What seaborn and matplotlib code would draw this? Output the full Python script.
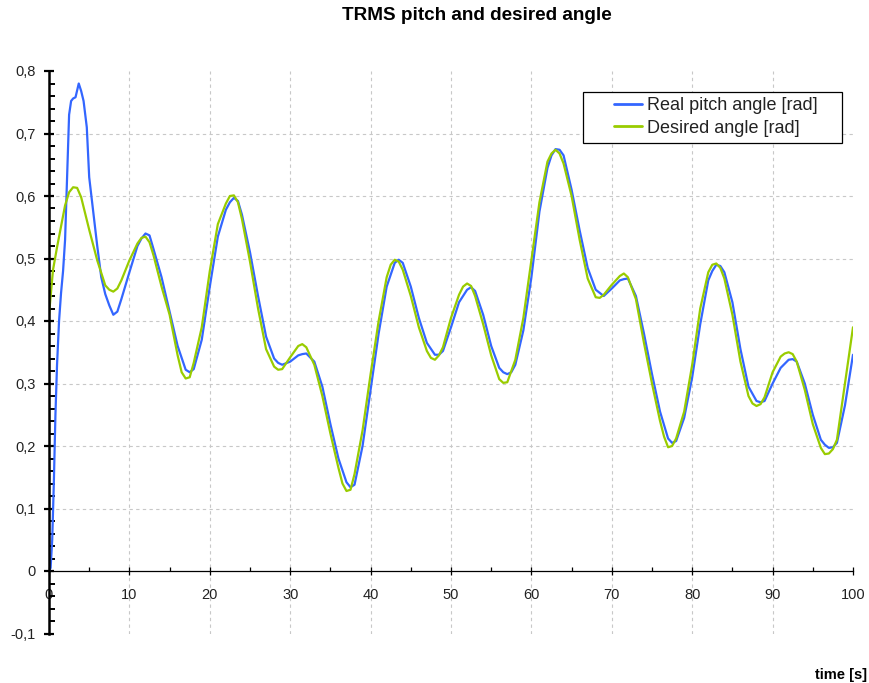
import numpy as np
import pandas as pd
import matplotlib
matplotlib.use("Agg")
import matplotlib.pyplot as plt
import seaborn as sns
from matplotlib.ticker import MultipleLocator, FixedLocator, FuncFormatter
from matplotlib.patches import Rectangle

# ---------------- data ----------------
real_t = [0, 0.2, 0.4, 0.6, 0.8, 1.0, 1.25, 1.5, 1.75, 2.0, 2.25, 2.5, 2.75, 3.0, 3.3, 3.7,
          4.0, 4.3, 4.7, 5.0, 5.5, 6.0, 6.5, 7.0, 7.5, 8, 8.5, 9, 10, 11, 11.5, 12, 12.5,
          13, 14, 15, 16, 17, 17.5, 18, 19, 20, 21, 22, 22.5, 23, 23.5, 24, 25, 26, 27, 28, 28.5, 29, 30,
          31, 31.5, 32, 33, 34, 35, 36, 37, 37.5, 38, 39, 40, 41, 42, 43, 43.5, 44, 45, 46, 47, 48, 48.5, 49, 50,
          51, 52, 52.5, 53, 54, 55, 56, 56.5, 57, 57.5, 58, 59, 60, 61, 62, 62.5, 63, 63.5, 64, 65, 66, 67, 68, 69, 70,
          71, 71.5, 72, 73, 74, 75, 76, 77, 77.5, 78, 79, 80, 81, 82, 82.5, 83, 83.5, 84, 85, 86, 87, 88, 88.5, 89, 90,
          91, 92, 92.5, 93, 94, 95, 96, 96.5, 97, 97.5, 98, 99, 100]
real_angle = [0.0, 0.005, 0.05, 0.14, 0.25, 0.33, 0.40, 0.445, 0.48, 0.53, 0.63, 0.73, 0.752, 0.756, 0.758, 0.78,
              0.768, 0.752, 0.71, 0.63, 0.575, 0.52, 0.47, 0.443, 0.425, 0.41, 0.415, 0.435, 0.478, 0.52, 0.532, 0.54, 0.537,
              0.515, 0.47, 0.415, 0.36, 0.322, 0.318, 0.323, 0.37, 0.455, 0.535, 0.578, 0.59, 0.597, 0.592, 0.57, 0.51, 0.44, 0.375, 0.34, 0.333, 0.33, 0.335,
              0.345, 0.347, 0.348, 0.335, 0.295, 0.235, 0.18, 0.142, 0.134, 0.138, 0.2, 0.29, 0.38, 0.455, 0.493, 0.498, 0.493, 0.455, 0.405, 0.365, 0.346, 0.346, 0.352, 0.39,
              0.43, 0.45, 0.454, 0.448, 0.41, 0.36, 0.325, 0.318, 0.315, 0.318, 0.33, 0.385, 0.47, 0.575, 0.645, 0.665, 0.675, 0.674, 0.665, 0.61, 0.545, 0.485, 0.45, 0.44, 0.452,
              0.465, 0.467, 0.468, 0.44, 0.38, 0.315, 0.255, 0.212, 0.205, 0.208, 0.245, 0.31, 0.395, 0.465, 0.48, 0.49, 0.488, 0.478, 0.43, 0.355, 0.295, 0.272, 0.27, 0.272, 0.3,
              0.325, 0.338, 0.339, 0.335, 0.3, 0.25, 0.21, 0.202, 0.197, 0.198, 0.205, 0.265, 0.346]

desired_t = [0, 0.5, 1, 2, 2.5, 3, 3.5, 4, 5, 6, 7, 7.5, 8, 8.5, 9, 10,
             11, 11.5, 12, 12.5, 13, 14, 15, 16, 16.5, 17, 17.5, 18, 19, 20,
             21, 22, 22.5, 23, 23.5, 24, 25, 26, 27, 28, 28.5, 29, 30,
             31, 31.5, 32, 33, 34, 35, 36, 36.5, 37, 37.5, 38, 39, 40,
             41, 42, 42.5, 43, 43.5, 44, 45, 46, 47, 47.5, 48, 48.5, 49, 50,
             51, 51.5, 52, 52.5, 53, 54, 55, 56, 56.5, 57, 58, 59, 60,
             61, 62, 62.5, 63, 63.5, 64, 65, 66, 67, 68, 68.5, 69, 70,
             71, 71.5, 72, 73, 74, 75, 76, 76.5, 77, 77.5, 78, 79, 80,
             81, 82, 82.5, 83, 83.5, 84, 85, 86, 87, 87.5, 88, 88.5, 89, 90,
             91, 91.5, 92, 92.5, 93, 94, 95, 96, 96.5, 97, 97.5, 98, 99, 100]
desired_angle = [0.41, 0.482, 0.518, 0.585, 0.606, 0.614, 0.613, 0.598, 0.546, 0.497, 0.457, 0.45, 0.447, 0.452, 0.465, 0.497,
                 0.524, 0.533, 0.535, 0.526, 0.505, 0.455, 0.41, 0.345, 0.318, 0.308, 0.31, 0.333, 0.39, 0.48,
                 0.555, 0.588, 0.6, 0.601, 0.59, 0.563, 0.495, 0.42, 0.355, 0.327, 0.322, 0.323, 0.342,
                 0.36, 0.363, 0.358, 0.33, 0.28, 0.22, 0.165, 0.14, 0.128, 0.13, 0.155, 0.225, 0.315,
                 0.4, 0.47, 0.49, 0.498, 0.495, 0.482, 0.44, 0.39, 0.352, 0.341, 0.338, 0.345, 0.358, 0.405,
                 0.442, 0.455, 0.46, 0.456, 0.44, 0.395, 0.345, 0.307, 0.301, 0.302, 0.338, 0.405, 0.498,
                 0.59, 0.655, 0.668, 0.674, 0.668, 0.652, 0.6, 0.53, 0.468, 0.438, 0.437, 0.442, 0.458,
                 0.472, 0.476, 0.47, 0.435, 0.365, 0.3, 0.24, 0.215, 0.198, 0.2, 0.212, 0.255, 0.33,
                 0.42, 0.478, 0.49, 0.492, 0.485, 0.468, 0.41, 0.335, 0.28, 0.268, 0.264, 0.267, 0.278, 0.318,
                 0.343, 0.348, 0.35, 0.347, 0.335, 0.29, 0.235, 0.197, 0.187, 0.188, 0.195, 0.21, 0.3, 0.39]

series_names = ["Real pitch angle [rad]", "Desired angle [rad]"]
series_colors = ["#3366FF", "#99CC00"]
x_ticks = [0, 10, 20, 30, 40, 50, 60, 70, 80, 90, 100]
y_ticks = [-0.1, 0, 0.1, 0.2, 0.3, 0.4, 0.5, 0.6, 0.7, 0.8]
title_text = "TRMS pitch and desired angle"
xlabel_text = "time [s]"

df = pd.concat([
    pd.DataFrame({"t": real_t, "v": real_angle, "series": series_names[0]}),
    pd.DataFrame({"t": desired_t, "v": desired_angle, "series": series_names[1]}),
], ignore_index=True)

# ---------------- style ----------------
sns.set_style("white")
plt.rcParams["font.family"] = ["Liberation Sans", "DejaVu Sans"]

fig = plt.figure(figsize=(8.7, 6.83), dpi=100)
ax = fig.add_axes([49 / 870, 1 - 633.5 / 683, 804 / 870, 562.5 / 683])

sns.lineplot(data=df, x="t", y="v", hue="series", palette=series_colors,
             hue_order=series_names, estimator=None, sort=False,
             linewidth=1.6, ax=ax, legend=True)

ax.set_xlim(0, 100)
ax.set_ylim(-0.1, 0.8)

# grid (interior only)
grid_kw = dict(color="#c8c8c8", linewidth=0.8, linestyle=(0, (3, 3)), zorder=0)
for xv in x_ticks[1:-1]:
    ax.axvline(xv, **grid_kw)
for yv in y_ticks[2:-1]:
    ax.axhline(yv, **grid_kw)

# spines
for s in ["top", "right"]:
    ax.spines[s].set_visible(False)
ax.spines["left"].set_linewidth(1.8)
ax.spines["left"].set_color("black")
ax.spines["bottom"].set_position(("data", 0))
ax.spines["bottom"].set_linewidth(0.9)
ax.spines["bottom"].set_color("black")

ax.xaxis.set_major_locator(FixedLocator(x_ticks))
ax.xaxis.set_minor_locator(MultipleLocator(5))
ax.yaxis.set_major_locator(FixedLocator(y_ticks))
ax.yaxis.set_minor_locator(MultipleLocator(0.02))

def fmt(v, pos):
    if abs(v) < 1e-9:
        return "0"
    return f"{v:.1f}".replace(".", ",")

ax.yaxis.set_major_formatter(FuncFormatter(fmt))
ax.xaxis.set_major_formatter(FuncFormatter(lambda v, p: f"{v:.0f}"))

ax.tick_params(which="both", left=True, bottom=True, top=False, right=False)
ax.tick_params(axis="y", which="major", direction="inout", length=7, width=1.6,
               pad=6, labelsize=10.5, labelcolor="#222222", color="black")
ax.tick_params(axis="y", which="minor", direction="in", length=4, width=1.4, color="black")
ax.tick_params(axis="x", which="major", direction="inout", length=6, width=0.9,
               pad=9, labelsize=10.5, labelcolor="#222222", color="black")
ax.tick_params(axis="x", which="minor", direction="in", length=3, width=0.9, color="black")

ax.set_xlabel("")
ax.set_ylabel("")

# legend: box drawn separately for wider side padding like the reference
box = Rectangle(((583 - 49) / 804, 1 - (143 - 71) / 562.5), 259 / 804, 51 / 562.5,
                transform=ax.transAxes, facecolor="white", edgecolor="black",
                linewidth=0.9, zorder=4)
ax.add_patch(box)
leg = ax.legend(loc="center right", bbox_to_anchor=((818 - 49) / 804, 1 - (117 - 71) / 562.5),
                borderaxespad=0, frameon=False, fontsize=13, handlelength=1.55,
                handletextpad=0.3, labelspacing=0.3, borderpad=0)
leg.set_zorder(5)
for t in leg.get_texts():
    t.set_color("#222222")
for h in leg.get_lines():
    h.set_linewidth(2.0)

fig.text(477 / 870, 1 - 15 / 683, title_text, ha="center", va="center",
         fontsize=13.6, fontweight="bold", color="black")
fig.text(867 / 870, 1 - 675 / 683, xlabel_text, ha="right", va="center",
         fontsize=10.5, fontweight="bold", color="black")

fig.savefig("out.png", dpi=100, facecolor="white")
